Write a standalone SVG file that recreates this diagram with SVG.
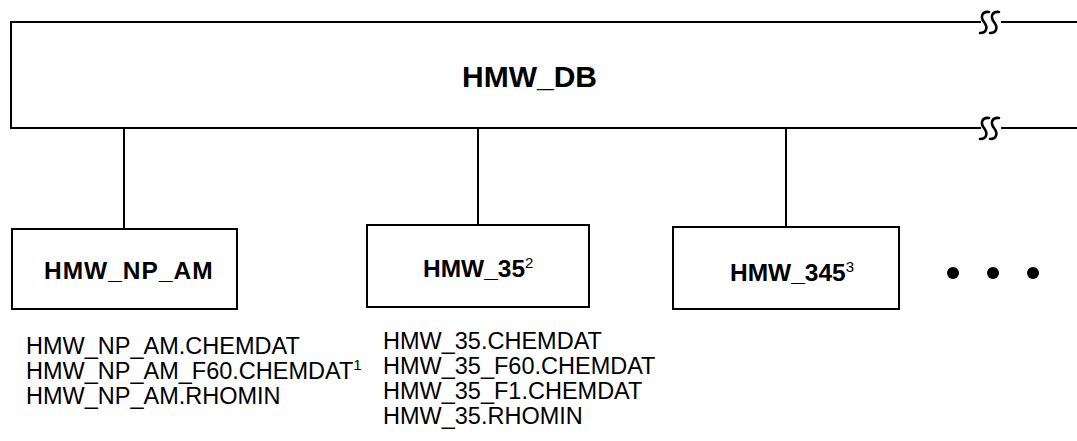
<svg xmlns="http://www.w3.org/2000/svg" width="1077" height="441" viewBox="0 0 1077 441">
<style>
.ln{stroke:#000;stroke-width:2;fill:none}
.brk{stroke:#000;stroke-width:2.6;fill:none;stroke-linecap:round}
.box{stroke:#000;stroke-width:2;fill:#fff}
.bt{font-family:"Liberation Sans",Arial,sans-serif;font-weight:bold;font-size:24.5px;fill:#000}
.db{font-family:"Liberation Sans",Arial,sans-serif;font-weight:bold;font-size:30px;fill:#000}
.t{font-family:"Liberation Sans",Arial,sans-serif;font-size:23.5px;fill:#000}
.sup{font-size:15px;font-weight:normal}
</style>
<rect width="1077" height="441" fill="#fff"/>
<g id="hmw_db">
<path class="ln" d="M1077,22 H1001 M981,22 H11 V128 H981 M1001,128 H1077"/>
<path class="brk" d="M989,12 C982,11 980,17 984,22 C988,27 987,33 980,33 M999,12 C992,11 990,17 994,22 C998,27 997,33 990,33"/>
<path class="brk" d="M989,118 C982,117 980,123 984,128 C988,133 987,139 980,139 M999,118 C992,117 990,123 994,128 C998,133 997,139 990,139"/>
<text class="db" x="462" y="87">HMW_DB</text>
</g>
<g id="connectors">
<line class="ln" x1="124" y1="128" x2="124" y2="229"/>
<line class="ln" x1="478" y1="128" x2="478" y2="225"/>
<line class="ln" x1="786" y1="128" x2="786" y2="227"/>
</g>
<g id="hmw_np_am">
<rect class="box" x="12" y="229" width="225" height="80"/>
<text class="bt" x="44" y="279" letter-spacing="1">HMW_NP_AM</text>
</g>
<g id="hmw_35">
<rect class="box" x="367" y="225" width="222" height="82"/>
<text class="bt" x="423" y="277">HMW_35<tspan class="sup" dy="-9">2</tspan></text>
</g>
<g id="hmw_345">
<rect class="box" x="673" y="227" width="226" height="82"/>
<text class="bt" x="730" y="281">HMW_345<tspan class="sup" dy="-9">3</tspan></text>
</g>
<g id="more">
<circle cx="953" cy="273" r="6"/>
<circle cx="993" cy="273" r="6"/>
<circle cx="1033" cy="273" r="6"/>
</g>
<g id="files_np_am">
<text class="t" x="26" y="354">HMW_NP_AM.CHEMDAT</text>
<text class="t" x="26" y="379">HMW_NP_AM_F60.CHEMDAT<tspan class="sup" dy="-9">1</tspan></text>
<text class="t" x="26" y="404">HMW_NP_AM.RHOMIN</text>
</g>
<g id="files_35">
<text class="t" x="383" y="349">HMW_35.CHEMDAT</text>
<text class="t" x="383" y="374">HMW_35_F60.CHEMDAT</text>
<text class="t" x="383" y="399">HMW_35_F1.CHEMDAT</text>
<text class="t" x="383" y="424">HMW_35.RHOMIN</text>
</g>
</svg>
